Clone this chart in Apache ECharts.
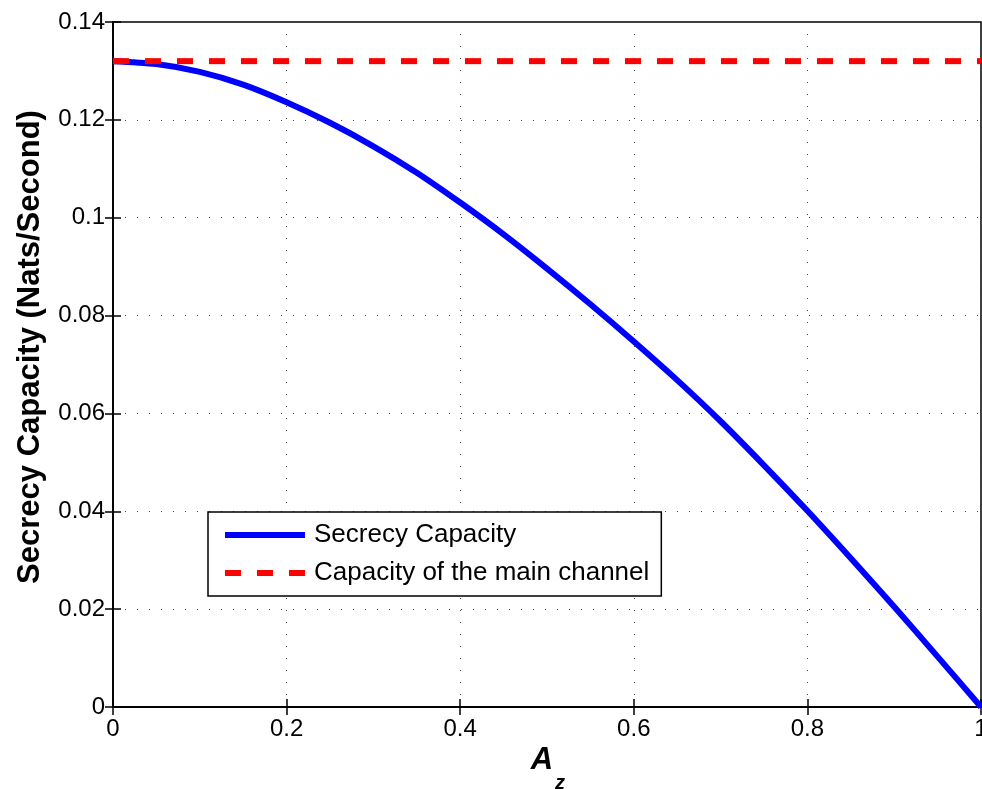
<!DOCTYPE html>
<html>
<head>
<meta charset="utf-8">
<script src="https://cdn.jsdelivr.net/npm/echarts@6/dist/echarts.min.js"></script>
<style>
  html, body { margin: 0; padding: 0; background: #fff; overflow: hidden; }
  #chart { width: 982px; height: 789px; }
</style>
</head>
<body>
<div id="chart"></div>
<script>
// A_z sample points and secrecy capacity
const azValues = [0, 0.05, 0.1, 0.15, 0.2, 0.25, 0.3, 0.35, 0.4, 0.45, 0.5,
  0.55, 0.6, 0.65, 0.7, 0.75, 0.8, 0.85, 0.9, 0.95, 1]
const secrecyCapacity = [0.1320, 0.1314, 0.1298, 0.1272, 0.1236, 0.1194, 0.1146,
  0.1092, 0.1031, 0.0966, 0.0896, 0.0823, 0.0747, 0.0668, 0.0584, 0.0494,
  0.0401, 0.0304, 0.0205, 0.0103, 0]
// capacity of the main channel (flat)
const mainX = [0, 1]
const mainCapacity = [0.132, 0.132]

const xTicks = { min: 0, max: 1, interval: 0.2 }
const yTicks = { min: 0, max: 0.14, interval: 0.02 }

const FONT = "'Liberation Sans', Arial, sans-serif"

let toPairs = (xs, ys) => xs.map((x, i) => [x, ys[i]])

let chart = echarts.init(document.getElementById('chart'), null, { width: 982, height: 789 })

// grid lines: dotted, like MATLAB's "grid on"
let dotted = { show: true, lineStyle: { color: '#444', width: 1, type: [1, 11] } }
let ticksIn = { show: true, inside: true, length: 8, lineStyle: { color: '#000', width: 1.5 } }
let blackLine = { show: true, lineStyle: { color: '#000', width: 1.5 } }

// legend icons: solid bar and three dashes
let solidIcon = 'path://M0,0H80V6H0Z'
let dashIcon = 'path://M0,0H16V6H0Z M32,0H48V6H32Z M64,0H80V6H64Z'

chart.setOption({
  animation: false,
  backgroundColor: '#fff',
  grid: {
    left: 113, right: 1, top: 22, bottom: 82,
    outerBoundsMode: 'none',
    show: true, borderColor: '#000', borderWidth: 1.5
  },
  xAxis: [{
    type: 'value', ...xTicks,
    axisLine: blackLine, axisTick: ticksIn, splitLine: dotted,
    axisLabel: { color: '#000', fontSize: 24, fontFamily: FONT, margin: 10 }
  }, {
    type: 'value', position: 'top', ...xTicks,
    axisLine: blackLine, axisTick: ticksIn, splitLine: { show: false },
    axisLabel: { show: false }
  }],
  yAxis: [{
    type: 'value', ...yTicks,
    axisLine: blackLine, axisTick: ticksIn, splitLine: dotted,
    axisLabel: { color: '#000', fontSize: 24, fontFamily: FONT, margin: 8 }
  }, {
    type: 'value', position: 'right', ...yTicks,
    axisLine: blackLine, axisTick: ticksIn, splitLine: { show: false },
    axisLabel: { show: false }
  }],
  legend: {
    orient: 'vertical',
    left: 208, top: 512,
    padding: [10, 12, 10, 17],
    itemGap: 12,
    itemWidth: 80, itemHeight: 6,
    backgroundColor: '#fff',
    borderColor: '#000', borderWidth: 1.5, borderRadius: 0,
    textStyle: { color: '#000', fontSize: 26, fontFamily: FONT, lineHeight: 26, padding: [0, 0, 0, 4] },
    data: [
      { name: 'Secrecy Capacity', icon: solidIcon },
      { name: 'Capacity of the main channel', icon: dashIcon }
    ]
  },
  series: [{
    name: 'Secrecy Capacity',
    type: 'line',
    data: toPairs(azValues, secrecyCapacity),
    smooth: 0.3,
    symbol: 'none',
    lineStyle: { color: '#0000ff', width: 6 },
    itemStyle: { color: '#0000ff' }
  }, {
    name: 'Capacity of the main channel',
    type: 'line',
    data: toPairs(mainX, mainCapacity),
    symbol: 'none',
    lineStyle: { color: '#ff0000', width: 6, type: [16, 16] },
    itemStyle: { color: '#ff0000' }
  }],
  graphic: [{
    type: 'text',
    x: 30, y: 347, rotation: Math.PI / 2,
    style: {
      text: 'Secrecy Capacity (Nats/Second)',
      fill: '#000', font: 'bold 31px ' + FONT,
      align: 'center', verticalAlign: 'middle'
    }
  }, {
    type: 'text',
    x: 542, y: 776,
    style: {
      text: 'A', fill: '#000', font: 'italic bold 31px ' + FONT,
      align: 'center', verticalAlign: 'bottom'
    }
  }, {
    type: 'text',
    x: 560, y: 793,
    style: {
      text: 'z', fill: '#000', font: 'italic bold 20px ' + FONT,
      align: 'center', verticalAlign: 'bottom'
    }
  }]
})
</script>
</body>
</html>
